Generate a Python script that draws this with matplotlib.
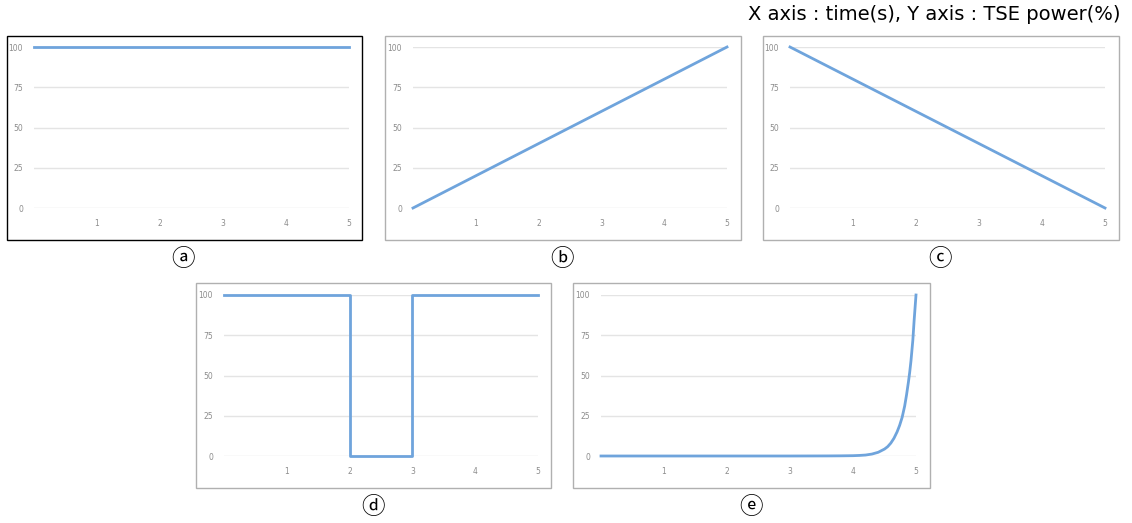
import matplotlib
matplotlib.use("Agg")
import matplotlib.pyplot as plt
from matplotlib.patches import Rectangle

W, H = 1132, 523

# series (x: time in s, y: TSE power in %)
x_a = [0, 5]
y_a = [100, 100]
x_b = [0, 5]
y_b = [0, 100]
x_c = [0, 5]
y_c = [100, 0]
x_d = [0, 2, 2, 3, 3, 5]
y_d = [100, 100, 0, 0, 100, 100]
x_e = [0, 1, 2, 3, 3.6, 3.8, 4.0, 4.1, 4.2, 4.3, 4.4, 4.5, 4.55, 4.6, 4.65,
       4.7, 4.74, 4.78, 4.82, 4.85, 4.88, 4.9, 4.92, 4.95, 4.97, 5.0]
y_e = [0, 0, 0, 0, 0.05, 0.1, 0.2, 0.35, 0.6, 1.2, 2.3, 4.3, 5.8, 8, 11,
       15, 19, 24, 31, 38, 46, 52, 59, 72, 84, 100]

y_ticks = [0, 25, 50, 75, 100]
x_ticks = [1, 2, 3, 4, 5]
labels = ["\u24d0", "\u24d1", "\u24d2", "\u24d3", "\u24d4"]
title = "X axis : time(s), Y axis : TSE power(%)"

line_color = "#6fa4dc"
grid_color = "#e4e4e4"
tick_color = "#8c8c8c"

# box (left, top, right, bottom) and plot area (x at 0, x at 5, y at 100, y at 0) in pixels
panels = [
    (x_a, y_a, (7, 36, 362, 240), (34, 349, 47, 208), "black", (183, 259)),
    (x_b, y_b, (385, 36, 741, 240), (413, 727, 47, 208), "#b0b0b0", (562, 259)),
    (x_c, y_c, (763, 36, 1119, 240), (790, 1105, 47, 208), "#b0b0b0", (940, 259)),
    (x_d, y_d, (196, 283, 551, 488), (224, 538, 295, 456), "#b0b0b0", (373, 507)),
    (x_e, y_e, (573, 283, 930, 488), (601, 916, 295, 456), "#b0b0b0", (751, 507)),
]

fig = plt.figure(figsize=(W / 100, H / 100), dpi=100)


def fx(px):
    return px / W


def fy(py):
    return 1 - py / H


for i, (xs, ys, box, area, edge, lab) in enumerate(panels):
    l, t, r, b = box
    fig.patches.append(Rectangle((fx(l), fy(b)), fx(r - l), (b - t) / H,
                                 transform=fig.transFigure, fill=False,
                                 edgecolor=edge, linewidth=1.0))
    x0, x5, y100, y0 = area
    ax = fig.add_axes([fx(x0), fy(y0), fx(x5 - x0), (y0 - y100) / H])
    ax.set_xlim(0, 5)
    ax.set_ylim(0, 100)
    for v in y_ticks:
        ax.axhline(v, color=grid_color, linewidth=1.0, zorder=1)
    ax.plot(xs, ys, color=line_color, linewidth=2.0, clip_on=False, zorder=3)
    for s in ax.spines.values():
        s.set_visible(False)
    ax.set_xticks(x_ticks)
    ax.set_yticks(y_ticks)
    ax.tick_params(length=0, labelsize=5.5, labelcolor=tick_color, pad=8)
    ax.set_facecolor("none")
    fig.text(fx(lab[0]), fy(lab[1]), labels[i], ha="center", va="center",
             fontsize=17, family=["DejaVu Sans", "Noto Sans CJK KR"])

fig.text(fx(1121), fy(14), title, ha="right", va="center", fontsize=14,
         family=["DejaVu Sans"])

fig.savefig("out.png", dpi=100)
